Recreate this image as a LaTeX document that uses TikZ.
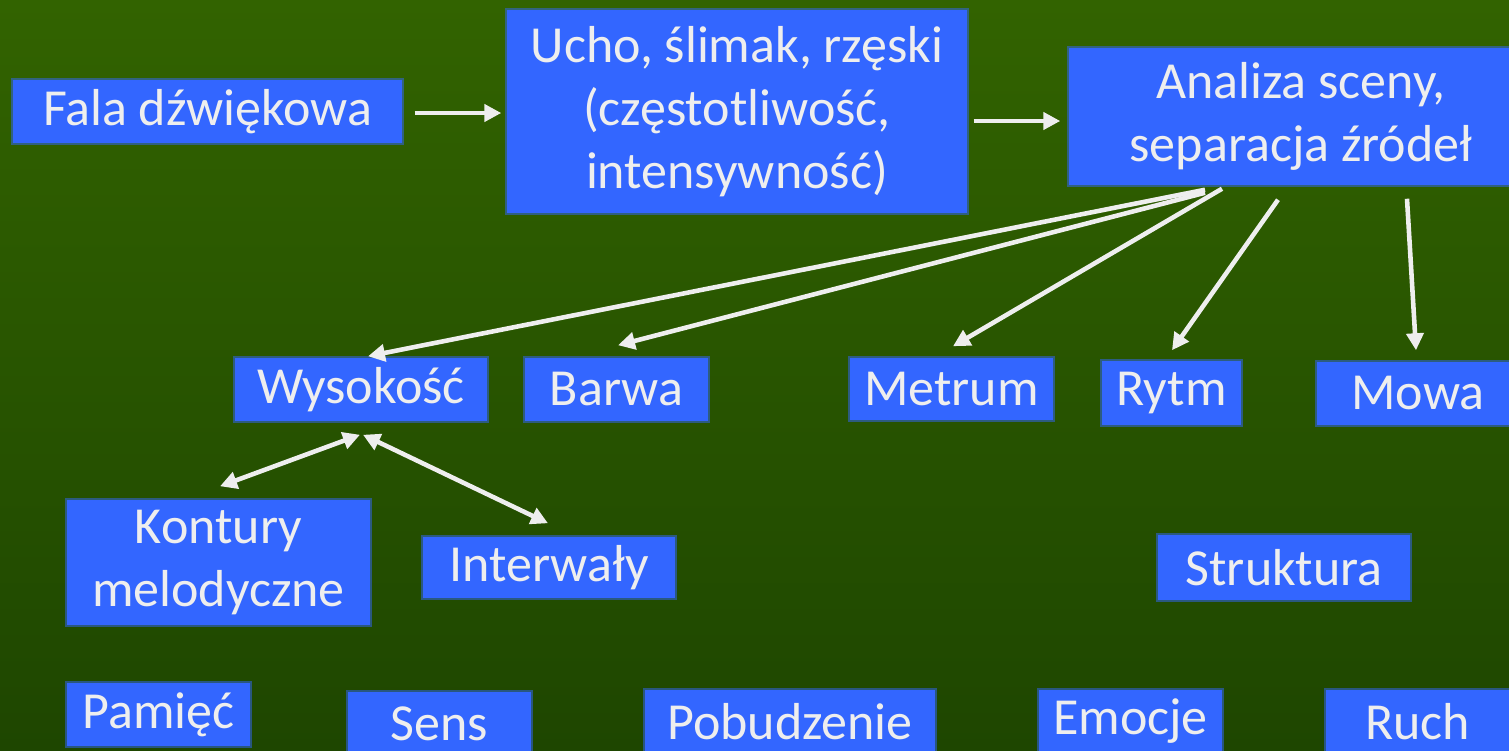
\documentclass[tikz,border=0pt]{standalone}
\usepackage{fontspec}
\setmainfont{Carlito}
\usetikzlibrary{arrows.meta}
\definecolor{boxblue}{RGB}{51,102,255}
\definecolor{txtgray}{RGB}{238,238,238}
\definecolor{bgtop}{RGB}{50,99,0}
\definecolor{bgbot}{RGB}{30,70,0}
\newcommand{\boxfont}{\fontsize{29.6}{36}\selectfont}

\begin{document}
\begin{tikzpicture}[x=0.02cm, y=-0.02cm,
  box/.style={fill=boxblue, draw=boxblue, draw opacity=0.5, line width=2pt, text=txtgray, inner sep=0pt, align=center, font=\boxfont},
  arr/.style={draw=txtgray, line width=2.6pt, -{Triangle[length=0.34cm, width=0.34cm]}},
  dbl/.style={arr, {Triangle[length=0.34cm, width=0.34cm]}-{Triangle[length=0.34cm, width=0.34cm]}}]
\useasboundingbox (0,0) rectangle (1509,751);
\fill[top color=bgtop, bottom color=bgbot] (0,0) rectangle (1509,751);
\node[box, minimum width=7.78cm, minimum height=1.26cm] (fala) at (207.5,111.5) {Fala dźwiękowa};
\node[box, minimum width=9.2cm, minimum height=4.06cm] (ucho) at (737,111.5) {Ucho, ślimak, rzęski\\(częstotliwość,\\intensywność)};
\node[box, minimum width=9.28cm, minimum height=2.74cm] (analiza) at (1301,116.5) {Analiza sceny,\\separacja źródeł};
\node[box, minimum width=5.04cm, minimum height=1.26cm] (wys) at (361,389.5) {Wysokość};
\node[box, minimum width=3.66cm, minimum height=1.26cm] (barwa) at (616.5,389.5) {Barwa};
\node[box, minimum width=4.06cm, minimum height=1.24cm] (metrum) at (951.5,389) {Metrum};
\node[box, minimum width=2.78cm, minimum height=1.28cm] (rytm) at (1171.5,393) {Rytm};
\node[box, minimum width=4.04cm, minimum height=1.26cm] (mowa) at (1418,393.5) {Mowa};
\node[box, minimum width=6.06cm, minimum height=2.5cm] (kontury) at (218.5,562.5) {Kontury\\melodyczne};
\node[box, minimum width=5.04cm, minimum height=1.22cm] (interwaly) at (549,567.5) {Interwały};
\node[box, minimum width=5.04cm, minimum height=1.3cm] (struktura) at (1284,567.5) {Struktura};
\node[box, minimum width=3.66cm, minimum height=1.26cm] (pamiec) at (158.5,714.5) {Pamięć};
\node[box, minimum width=3.66cm, minimum height=1.26cm] (sens) at (439.5,723.5) {Sens};
\node[box, minimum width=5.8cm, minimum height=1.26cm] (pobudzenie) at (790,721.5) {Pobudzenie};
\node[box, minimum width=3.66cm, minimum height=1.26cm] (emocje) at (1130.5,721.5) {Emocje};
\node[box, minimum width=3.66cm, minimum height=1.26cm] (ruch) at (1417.5,721.5) {Ruch};
\draw[arr] ([shift={(11,1.5)}]fala.east) -- ([shift={(-4,1.5)}]ucho.west);
\draw[arr] ([shift={(5,9.5)}]ucho.east) -- ([shift={(-7,4.5)}]analiza.west);
\draw[arr] ([shift={(-96,3)}]analiza.south) -- ([shift={(7,0)}]wys.north);
\draw[arr] ([shift={(-96,6)}]analiza.south) -- ([shift={(1.5,-11)}]barwa.north);
\draw[arr] ([shift={(-79,2)}]analiza.south) -- ([shift={(1.5,-10)}]metrum.north);
\draw[arr] ([shift={(-23,13)}]analiza.south) -- ([shift={(0.5,-9)}]rytm.north);
\draw[arr] ([shift={(106,12)}]analiza.south) -- ([shift={(-2,-10)}]mowa.north);
\draw[dbl] ([shift={(-1,12)}]wys.south) -- ([shift={(1.5,-12)}]kontury.north);
\draw[dbl] ([shift={(2,12)}]wys.south) -- ([shift={(-1,-12)}]interwaly.north);
\end{tikzpicture}
\end{document}
